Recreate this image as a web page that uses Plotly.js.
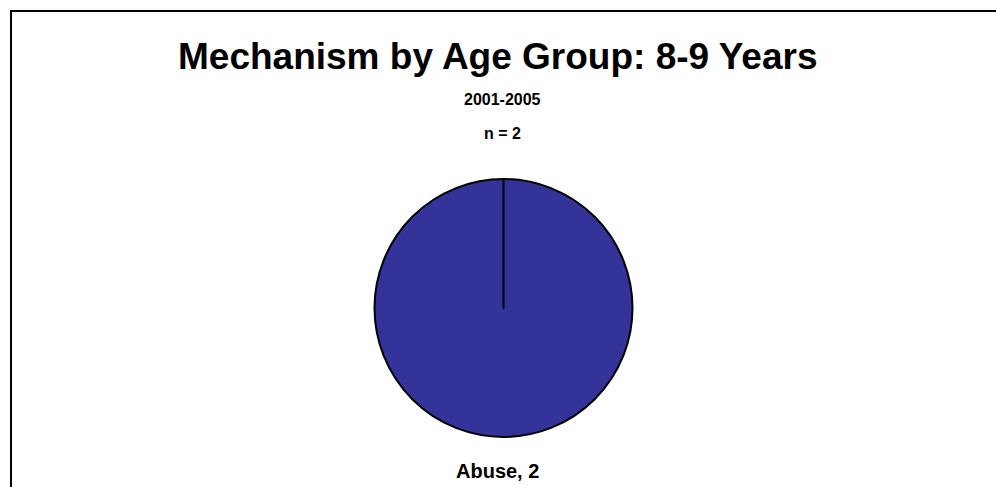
<!DOCTYPE html>
<html>
<head>
<meta charset="utf-8">
<script src="https://cdn.plot.ly/plotly-3.0.1.min.js"></script>
<style>
  html, body { margin: 0; padding: 0; background: #ffffff; }
  #chart { width: 996px; height: 487px; }
</style>
</head>
<body>
<div id="chart"></div>
<script>
// ---- data ----
var categories = ["Abuse"];
var values = [2];
var titleText = "Mechanism by Age Group: 8-9 Years";
var subtitleLines = ["2001-2005", "n = 2"];

// ---- build ----
var sliceColors = ["#333399"];

// Excel draws a radial divider at the start of a 100% slice; reproduce it with an empty zero-size slice.
var pieLabels = categories.concat([" "]);
var pieValues = values.concat([0]);
var pieColors = sliceColors.concat(["#333399"]);

var trace = {
  type: "pie",
  labels: pieLabels,
  values: pieValues,
  sort: false,
  direction: "clockwise",
  rotation: 0,
  textinfo: "none",
  hoverinfo: "label+value",
  showlegend: false,
  marker: { colors: pieColors, line: { color: "#000000", width: 2 } },
  domain: { x: [0.011, 1.0], y: [0.1027, 0.6324] }
};

var font = "Liberation Sans, Arial, sans-serif";
var annotations = [
  { text: "<b>" + titleText + "</b>", x: 498 / 996, y: 1 - 56 / 487, xref: "paper", yref: "paper",
    xanchor: "center", yanchor: "middle", showarrow: false, font: { family: font, size: 37, color: "#000" } },
  { text: "<b>" + subtitleLines[0] + "</b>", x: 503 / 996, y: 1 - 100 / 487, xref: "paper", yref: "paper",
    xanchor: "center", yanchor: "middle", showarrow: false, font: { family: font, size: 16, color: "#000" } },
  { text: "<b>" + subtitleLines[1] + "</b>", x: 503 / 996, y: 1 - 134 / 487, xref: "paper", yref: "paper",
    xanchor: "center", yanchor: "middle", showarrow: false, font: { family: font, size: 16, color: "#000" } }
];
categories.forEach(function (c, i) {
  annotations.push({
    text: "<b>" + c + ", " + values[i] + "</b>", x: 497 / 996, y: 1 - 471 / 487, xref: "paper", yref: "paper",
    xanchor: "center", yanchor: "middle", showarrow: false, font: { family: font, size: 20, color: "#000" }
  });
});

var layout = {
  width: 996,
  height: 487,
  margin: { l: 0, r: 0, t: 0, b: 0 },
  paper_bgcolor: "#ffffff",
  plot_bgcolor: "#ffffff",
  showlegend: false,
  annotations: annotations,
  shapes: [
    { type: "rect", xref: "paper", yref: "paper", x0: 11 / 996, x1: 1.02, y0: -0.02, y1: 1 - 11 / 487,
      line: { color: "#000000", width: 2 }, fillcolor: "rgba(0,0,0,0)" }
  ]
};

Plotly.newPlot("chart", [trace], layout, { staticPlot: true, displayModeBar: false });
</script>
</body>
</html>
